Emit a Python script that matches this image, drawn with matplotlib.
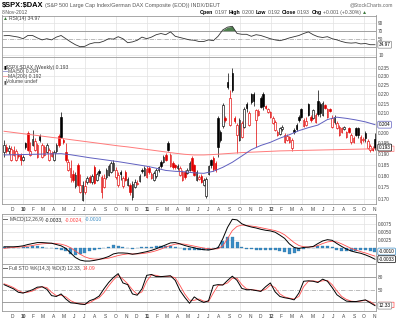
import numpy as np
import pandas as pd
import matplotlib
matplotlib.use('Agg')
import matplotlib.pyplot as plt
import matplotlib.dates as mdates
from matplotlib.patches import FancyBboxPatch
from matplotlib.ticker import FixedLocator, NullLocator, FuncFormatter

plt.rcParams['font.family'] = ['Liberation Sans', 'DejaVu Sans']

W, H = 400, 325

# weekly bars, $SPX:$DAX ratio
dates = pd.date_range('2009-11-06', periods=157, freq='7D')

opens = [
    0.1910, 0.1934, 0.1912, 0.1872, 0.1895, 0.1872, 0.1895, 0.1895, 0.1872, 0.1950,
    0.2001, 0.1895, 0.1940, 0.1919, 0.1886, 0.1986, 0.1886, 0.1895, 0.1910, 0.1872,
    0.1890, 0.1872, 0.1912, 0.1986, 0.2081, 0.1967, 0.1910, 0.1827, 0.1795, 0.1809,
    0.1756, 0.1849, 0.1731, 0.1697, 0.1731, 0.1774, 0.1795, 0.1774, 0.1840, 0.1782,
    0.1822, 0.1731, 0.1752, 0.1795, 0.1804, 0.1818, 0.1827, 0.1795, 0.1761, 0.1818,
    0.1756, 0.1818, 0.1761, 0.1761, 0.1710, 0.1752, 0.1765, 0.1778, 0.1827, 0.1804,
    0.1795, 0.1836, 0.1790, 0.1782, 0.1797, 0.1827, 0.1863, 0.1863, 0.1895, 0.1950,
    0.1845, 0.1858, 0.1849, 0.1836, 0.1804, 0.1782, 0.1818, 0.1814, 0.1827, 0.1882,
    0.1849, 0.1782, 0.1788, 0.1800, 0.1761, 0.1712, 0.1809, 0.1870, 0.1880, 0.1860,
    0.2076, 0.2006, 0.2035, 0.2076, 0.2268, 0.2040, 0.2319, 0.2076, 0.1991, 0.1967,
    0.1982, 0.2030, 0.2148, 0.2040, 0.2200, 0.2205, 0.2066, 0.2091, 0.2180, 0.2200,
    0.2140, 0.2106, 0.2081, 0.2050, 0.2016, 0.1991, 0.1996, 0.2022, 0.1958, 0.1967,
    0.1958, 0.1930, 0.2016, 0.2040, 0.2081, 0.2122, 0.2035, 0.2040, 0.2148, 0.2081,
    0.2076, 0.2055, 0.2165, 0.2148, 0.2091, 0.2143, 0.2081, 0.2122, 0.2030, 0.2055,
    0.2025, 0.1991, 0.2006, 0.2022, 0.1982, 0.2025, 0.1955, 0.1958, 0.2025, 0.2025,
    0.1955, 0.1965, 0.2000, 0.1930, 0.1920, 0.1928, 0.1970,
]
highs = [
    0.1967, 0.1948, 0.1940, 0.1935, 0.1938, 0.1922, 0.1905, 0.1902, 0.1895, 0.1958,
    0.2008, 0.1958, 0.2015, 0.1975, 0.1950, 0.1995, 0.1952, 0.1942, 0.1952, 0.1928,
    0.1914, 0.1918, 0.1952, 0.1995, 0.2106, 0.1975, 0.1950, 0.1875, 0.1872, 0.1825,
    0.1815, 0.1860, 0.1809, 0.1775, 0.1782, 0.1800, 0.1805, 0.1810, 0.1850, 0.1818,
    0.1830, 0.1805, 0.1809, 0.1835, 0.1855, 0.1868, 0.1870, 0.1838, 0.1815, 0.1828,
    0.1800, 0.1825, 0.1795, 0.1770, 0.1778, 0.1785, 0.1782, 0.1808, 0.1835, 0.1845,
    0.1845, 0.1845, 0.1818, 0.1820, 0.1835, 0.1845, 0.1870, 0.1895, 0.1905, 0.1960,
    0.1905, 0.1865, 0.1855, 0.1852, 0.1842, 0.1826, 0.1825, 0.1835, 0.1866, 0.1890,
    0.1855, 0.1826, 0.1805, 0.1808, 0.1790, 0.1795, 0.1850, 0.1878, 0.1888, 0.1868,
    0.2086, 0.2015, 0.2155, 0.2085, 0.2319, 0.2224, 0.2350, 0.2085, 0.2050, 0.2075,
    0.2060, 0.2135, 0.2160, 0.2110, 0.2210, 0.2215, 0.2125, 0.2120, 0.2190, 0.2215,
    0.2145, 0.2128, 0.2112, 0.2085, 0.2065, 0.2015, 0.2030, 0.2038, 0.2000, 0.1995,
    0.1988, 0.1975, 0.2025, 0.2050, 0.2090, 0.2130, 0.2075, 0.2080, 0.2155, 0.2090,
    0.2125, 0.2100, 0.2222, 0.2160, 0.2165, 0.2150, 0.2130, 0.2130, 0.2090, 0.2090,
    0.2060, 0.2040, 0.2032, 0.2035, 0.2012, 0.2030, 0.2000, 0.1985, 0.2032, 0.2030,
    0.1990, 0.1980, 0.2008, 0.1970, 0.1945, 0.1935, 0.2000,
]
lows = [
    0.1886, 0.1905, 0.1900, 0.1865, 0.1888, 0.1866, 0.1880, 0.1849, 0.1865, 0.1925,
    0.1912, 0.1890, 0.1935, 0.1912, 0.1880, 0.1958, 0.1880, 0.1890, 0.1905, 0.1866,
    0.1884, 0.1866, 0.1905, 0.1932, 0.1975, 0.1945, 0.1863, 0.1820, 0.1774, 0.1774,
    0.1748, 0.1755, 0.1725, 0.1690, 0.1722, 0.1765, 0.1768, 0.1765, 0.1762, 0.1775,
    0.1800, 0.1705, 0.1745, 0.1788, 0.1798, 0.1812, 0.1820, 0.1788, 0.1752, 0.1780,
    0.1748, 0.1775, 0.1755, 0.1718, 0.1697, 0.1745, 0.1760, 0.1772, 0.1812, 0.1798,
    0.1790, 0.1810, 0.1785, 0.1775, 0.1790, 0.1818, 0.1835, 0.1858, 0.1865, 0.1912,
    0.1838, 0.1832, 0.1830, 0.1828, 0.1798, 0.1775, 0.1788, 0.1808, 0.1820, 0.1820,
    0.1798, 0.1775, 0.1780, 0.1768, 0.1755, 0.1706, 0.1803, 0.1835, 0.1822, 0.1815,
    0.1886, 0.1955, 0.2025, 0.2055, 0.2230, 0.2035, 0.2213, 0.2050, 0.1905, 0.1960,
    0.1975, 0.2025, 0.2105, 0.2035, 0.2150, 0.2140, 0.1934, 0.2085, 0.2130, 0.2115,
    0.2120, 0.2100, 0.2075, 0.2045, 0.2010, 0.1985, 0.1990, 0.2010, 0.1950, 0.1960,
    0.1950, 0.1915, 0.1995, 0.2010, 0.2055, 0.2075, 0.2028, 0.2035, 0.2085, 0.2058,
    0.2070, 0.2048, 0.2088, 0.2080, 0.2085, 0.2120, 0.2075, 0.2105, 0.2025, 0.2045,
    0.2018, 0.1985, 0.2000, 0.2015, 0.1975, 0.1998, 0.1948, 0.1952, 0.1985, 0.1975,
    0.1948, 0.1955, 0.1958, 0.1925, 0.1910, 0.1915, 0.1920,
]
closes = [
    0.1943, 0.1915, 0.1928, 0.1925, 0.1920, 0.1912, 0.1888, 0.1872, 0.1886, 0.1934,
    0.1919, 0.1912, 0.1972, 0.1962, 0.1940, 0.1967, 0.1943, 0.1934, 0.1943, 0.1919,
    0.1905, 0.1910, 0.1943, 0.1940, 0.1982, 0.1955, 0.1872, 0.1863, 0.1836, 0.1782,
    0.1804, 0.1761, 0.1758, 0.1761, 0.1755, 0.1790, 0.1774, 0.1800, 0.1770, 0.1809,
    0.1811, 0.1795, 0.1790, 0.1827, 0.1845, 0.1858, 0.1860, 0.1827, 0.1804, 0.1806,
    0.1790, 0.1782, 0.1785, 0.1731, 0.1765, 0.1774, 0.1770, 0.1800, 0.1820, 0.1834,
    0.1830, 0.1818, 0.1809, 0.1812, 0.1827, 0.1838, 0.1842, 0.1886, 0.1872, 0.1919,
    0.1895, 0.1840, 0.1838, 0.1846, 0.1834, 0.1818, 0.1795, 0.1827, 0.1858, 0.1827,
    0.1804, 0.1818, 0.1795, 0.1774, 0.1782, 0.1787, 0.1845, 0.1849, 0.1830, 0.1825,
    0.1934, 0.1967, 0.2143, 0.2066, 0.2241, 0.2183, 0.2224, 0.2061, 0.2040, 0.2066,
    0.2050, 0.2125, 0.2128, 0.2100, 0.2160, 0.2165, 0.2117, 0.2110, 0.2135, 0.2140,
    0.2130, 0.2120, 0.2106, 0.2076, 0.2055, 0.2006, 0.2025, 0.2030, 0.1991, 0.1985,
    0.1980, 0.1967, 0.2005, 0.2018, 0.2066, 0.2081, 0.2066, 0.2060, 0.2091, 0.2066,
    0.2117, 0.2091, 0.2095, 0.2100, 0.2153, 0.2130, 0.2122, 0.2112, 0.2076, 0.2081,
    0.2050, 0.2030, 0.2025, 0.2028, 0.2006, 0.2004, 0.1991, 0.1975, 0.1991, 0.1992,
    0.1982, 0.1972, 0.1975, 0.1962, 0.1935, 0.1920, 0.1930,
]

# moving averages, every 4th week
ma50 = [
    0.1895, 0.1896, 0.1897, 0.1898, 0.1899, 0.1900, 0.1901, 0.1896, 0.1889, 0.1882,
    0.1876, 0.1870, 0.1864, 0.1857, 0.1850, 0.1843, 0.1834, 0.1824, 0.1820, 0.1818,
    0.1813, 0.1811, 0.1820, 0.1838, 0.1861, 0.1890, 0.1920, 0.1940, 0.1955, 0.1975,
    0.1992, 0.2012, 0.2027, 0.2040, 0.2068, 0.2080, 0.2074, 0.2066, 0.2056, 0.2042,
]
ma200 = [
    0.2009, 0.2003, 0.1997, 0.1991, 0.1985, 0.1979, 0.1974, 0.1968, 0.1962, 0.1956,
    0.1950, 0.1944, 0.1938, 0.1933, 0.1927, 0.1921, 0.1915, 0.1909, 0.1903, 0.1898,
    0.1895, 0.1895, 0.1897, 0.1900, 0.1903, 0.1906, 0.1908, 0.1910, 0.1912, 0.1914,
    0.1915, 0.1916, 0.1917, 0.1918, 0.1919, 0.1920, 0.1921, 0.1922, 0.1923, 0.1924,
]

# indicators, every 2nd week
rsi = [
    57.5, 58, 56, 54, 50, 58, 58, 52, 47, 50,
    47, 54, 58, 50, 42, 35, 30, 31, 37, 40,
    40, 44, 50, 49, 55, 50, 40, 42, 46, 54,
    50, 54, 60, 63, 60, 67, 56, 53, 50, 47,
    46, 43, 43, 47, 45, 56, 72, 79, 81, 63,
    61, 61, 56, 60, 58, 54, 50, 47, 45, 48,
    52, 55, 58, 63, 67, 60, 55, 53, 55, 50,
    47, 43, 40, 39, 40, 37, 38, 35, 34.97,
]
macd = [
    0.0005, 0.0005, 0.0005, 0.0006, 0.0008, 0.0012, 0.0015, 0.0018, 0.0018, 0.0017,
    0.0016, 0.0012, 0.0008, 0.0000, -0.0014, -0.0028, -0.0036, -0.0039, -0.0039, -0.0037,
    -0.0034, -0.0030, -0.0025, -0.0017, -0.0014, -0.0014, -0.0015, -0.0018, -0.0016, -0.0013,
    -0.0010, -0.0006, -0.0001, 0.0005, 0.0011, 0.0017, 0.0018, 0.0014, 0.0009, 0.0005,
    0.0002, -0.0002, -0.0004, -0.0005, -0.0002, 0.0002, 0.0030, 0.0065, 0.0090, 0.0088,
    0.0076, 0.0070, 0.0066, 0.0063, 0.0059, 0.0056, 0.0054, 0.0050, 0.0041, 0.0031,
    0.0014, 0.0003, 0.0000, 0.0003, 0.0004, 0.0006, 0.0015, 0.0023, 0.0027, 0.0025,
    0.0015, 0.0006, -0.0002, -0.0008, -0.0012, -0.0015, -0.0020, -0.0026, -0.00334,
]
signal = [
    0.0000, 0.0002, 0.0003, 0.0004, 0.0005, 0.0007, 0.0009, 0.0012, 0.0014, 0.0015,
    0.0016, 0.0015, 0.0013, 0.0009, 0.0002, -0.0008, -0.0018, -0.0026, -0.0031, -0.0033,
    -0.0033, -0.0032, -0.0030, -0.0026, -0.0022, -0.0019, -0.0017, -0.0017, -0.0017, -0.0016,
    -0.0014, -0.0011, -0.0007, -0.0002, 0.0004, 0.0009, 0.0013, 0.0014, 0.0013, 0.0010,
    0.0007, 0.0004, 0.0001, -0.0001, -0.0002, -0.0001, 0.0008, 0.0030, 0.0055, 0.0068,
    0.0072, 0.0071, 0.0069, 0.0067, 0.0064, 0.0061, 0.0058, 0.0055, 0.0050, 0.0042,
    0.0030, 0.0018, 0.0009, 0.0005, 0.0004, 0.0005, 0.0009, 0.0015, 0.0020, 0.0022,
    0.0020, 0.0014, 0.0007, 0.0000, -0.0005, -0.0010, -0.0014, -0.0019, -0.00238,
]
sto_k = [
    62, 57, 52, 44, 42, 46, 50, 56, 57, 51,
    36, 34, 40, 28, 19, 18, 16, 15, 24, 28,
    35, 52, 67, 79, 88, 66, 62, 40, 37, 52,
    84, 86, 81, 81, 82, 83, 72, 48, 32, 18,
    33, 25, 20, 24, 60, 62, 61, 72, 82, 72,
    53, 50, 50, 48, 46, 57, 66, 45, 34, 31,
    29, 26, 42, 70, 71, 70, 67, 75, 70, 55,
    38, 30, 23, 22, 22, 24, 26, 19, 12.33,
]
sto_d = [
    64, 60, 55, 48, 43, 44, 47, 53, 57, 55,
    44, 36, 37, 33, 24, 19, 17, 16, 19, 26,
    31, 43, 59, 73, 84, 75, 64, 50, 39, 45,
    70, 85, 84, 81, 81, 82, 78, 60, 40, 25,
    25, 28, 23, 22, 42, 60, 62, 66, 77, 77,
    62, 52, 50, 49, 47, 51, 61, 55, 40, 33,
    30, 28, 34, 57, 70, 71, 69, 71, 72, 62,
    47, 34, 27, 23, 22, 23, 25, 22, 14.09,
]

price_ticks = [0.170, 0.175, 0.180, 0.185, 0.190, 0.195, 0.200,
               0.205, 0.210, 0.215, 0.220, 0.225, 0.230, 0.235]

BLACK = '#000000'
RED = '#e00000'
GRID = '#e2e2e2'
LABEL = '#444444'

x = mdates.date2num(dates.to_pydatetime())
x2 = x[::2]
x4 = x[::4]
xmin = mdates.date2num(pd.Timestamp('2009-10-31'))
xmax = mdates.date2num(pd.Timestamp('2012-11-05'))

months = pd.date_range('2009-12-01', '2012-11-01', freq='MS')
mx = mdates.date2num(months.to_pydatetime())
mlab = [m.strftime('%y') if m.month == 1 else m.strftime('%b')[0] for m in months]
qx = [v for v, m in zip(mx, months) if m.month in (1, 4, 7, 10)]

fig = plt.figure(figsize=(W / 100, H / 100), dpi=100)
fig.patch.set_facecolor('white')


def panel(top, bottom):
    return fig.add_axes([2 / W, 1 - bottom / H, 374 / W, (bottom - top) / H])


def style(ax, labels=False):
    ax.set_xlim(xmin, xmax)
    for s in ax.spines.values():
        s.set_color('#999999')
        s.set_linewidth(0.6)
    for q in qx:
        ax.axvline(q, color=GRID, lw=0.5, zorder=0)
    ax.yaxis.tick_right()
    ax.tick_params(axis='y', length=0, labelsize=3.4, labelcolor=LABEL, pad=1.5)
    ax.set_xticks(mx)
    if labels:
        ax.set_xticklabels(mlab)
        for t, m in zip(ax.get_xticklabels(), months):
            if m.month == 1:
                t.set_fontweight('bold')
        ax.tick_params(axis='x', length=0, labelsize=3.5, labelcolor=LABEL, pad=2.2)
    else:
        ax.tick_params(axis='x', length=0, labelbottom=False)


def text(xp, yp, s, size=3.9, color=LABEL, weight='normal', ha='left'):
    return fig.text(xp / W, 1 - yp / H, s, fontsize=size, color=color,
                    fontweight=weight, ha=ha, va='center')


def run(xp, yp, pieces, size=3.9, gap=1.0):
    # lay out coloured text pieces one after another on a line
    r = fig.canvas.get_renderer()
    for piece in pieces:
        s, color, weight = piece[:3]
        fs = piece[3] if len(piece) > 3 else size
        t = text(xp, yp, s, size=fs, color=color, weight=weight)
        xp += t.get_window_extent(r).width + gap


def vbox(ax, val, s, ec, tc=BLACK):
    ax.annotate(s, xy=(1.0, val), xycoords=('axes fraction', 'data'),
                xytext=(2, 0), textcoords='offset points', ha='left', va='center',
                fontsize=3.4, color=tc, annotation_clip=False,
                bbox=dict(boxstyle='round,pad=0.2', fc='white', ec=ec, lw=0.5))


def ghost(ax, val, ec):
    # value box sitting behind another one; only its outline shows
    yd = ax.transData.transform((0, val))[1]
    fig.add_artist(FancyBboxPatch((378.5 / W, (yd - 2.7) / H), 15.5 / W, 5.4 / H,
                                  boxstyle='round,pad=0', transform=fig.transFigure,
                                  fc='white', ec=ec, lw=0.5, zorder=-1))


# RSI panel
ax_rsi = panel(15.5, 57)
style(ax_rsi)
ax_rsi.set_ylim(4.25, 108)
ax_rsi.yaxis.set_major_locator(FixedLocator([10, 50, 70, 90]))
ax_rsi.yaxis.set_major_formatter(FuncFormatter(lambda v, p: '%d' % v))
for lv in (10, 90):
    ax_rsi.axhline(lv, color=GRID, lw=0.5, zorder=0)
for lv in (30, 70):
    ax_rsi.axhline(lv, color='#a0a0a0', lw=0.7, zorder=1)
ax_rsi.axhline(50, color='#a0a0a0', lw=0.5, ls='-.', zorder=1)
rsi_a = np.array(rsi)
ax_rsi.fill_between(x2, rsi_a, 70, where=rsi_a > 70, interpolate=True,
                    color='#4f7f4f', lw=0, zorder=2)
ax_rsi.plot(x2, rsi, color='#333333', lw=0.6, zorder=3)
vbox(ax_rsi, rsi[-1], '%.2f' % rsi[-1], '#888888')
run(3, 18.5, [('▲', '#3f7a3f', 'normal'), ('RSI(14) %.2f' % rsi[-1], LABEL, 'normal')],
    size=3.6, gap=0.6)

# price panel
ax = panel(57, 204)
style(ax, labels=True)
ax.set_yscale('log')
ax.set_ylim(0.1679, 0.2413)
ax.yaxis.set_major_locator(FixedLocator(price_ticks))
ax.yaxis.set_minor_locator(NullLocator())
ax.yaxis.set_major_formatter(FuncFormatter(lambda v, p: '%.3f' % v))
ax.yaxis.set_minor_formatter(FuncFormatter(lambda v, p: ''))
for lv in price_ticks:
    ax.axhline(lv, color=GRID, lw=0.5, zorder=0)

o = np.array(opens)
h = np.array(highs)
l = np.array(lows)
c = np.array(closes)
prev = np.concatenate([[o[0]], c[:-1]])
edge = np.where(c >= prev, BLACK, RED)
face = np.where(c >= o, 'white', edge)
lo = np.minimum(o, c)
hi = np.maximum(o, c)
ax.vlines(x, l, h, colors=edge, lw=0.5, zorder=3)
ax.bar(x, hi - lo, bottom=lo, width=4.6, color=face, edgecolor=edge,
       linewidth=0.45, zorder=4)
ax.plot(x4, ma200, color='#ff7a7a', lw=0.7, zorder=5)
ax.plot(x4, ma50, color='#6060c0', lw=0.7, zorder=5)

vbox(ax, ma50[-1], '%.3f' % ma50[-1], '#6060c0')
ghost(ax, ma200[-1], '#ff7a7a')
vbox(ax, closes[-1], '%.3f' % closes[-1], BLACK)

run(3, 67, [('▮', BLACK, 'normal'), (r'\$SPX:\$DAX (Weekly) %.3f' % closes[-1], LABEL, 'normal')],
    size=3.6, gap=0.6)
run(3, 71.8, [('—', '#6060c0', 'bold'), ('MA(50) %.3f' % ma50[-1], LABEL, 'normal')],
    size=3.6, gap=0.4)
run(3, 76.6, [('—', '#ff7a7a', 'bold'), ('MA(200) %.3f' % ma200[-1], LABEL, 'normal')],
    size=3.6, gap=0.4)
run(3, 81.4, [('▮', '#555555', 'normal'), ('Volume undef', LABEL, 'normal')],
    size=3.6, gap=0.6)

# MACD panel
ax_m = panel(214, 264)
style(ax_m)
ax_m.set_ylim(-0.00481, 0.01062)
ax_m.yaxis.set_major_locator(FixedLocator([0.0025, 0.005, 0.0075]))
ax_m.yaxis.set_major_formatter(FuncFormatter(lambda v, p: '%.4f' % v))
for lv in (-0.0025, 0.0, 0.0025, 0.005, 0.0075, 0.01):
    ax_m.axhline(lv, color=GRID, lw=0.5, zorder=0)
hist = np.array(macd) - np.array(signal)
ax_m.bar(x2, hist, width=9, color='#3a8cc4', edgecolor='#2a6f9f', lw=0.2, zorder=2)
ax_m.plot(x2, signal, color='#ff5050', lw=0.6, zorder=3)
ax_m.plot(x2, macd, color=BLACK, lw=0.7, zorder=4)
vbox(ax_m, hist[-1], '%.4f' % hist[-1], '#3a8cc4')
ghost(ax_m, signal[-1], '#ff5050')
vbox(ax_m, macd[-1], '%.4f' % macd[-1], BLACK)
run(3, 219.5, [('—', BLACK, 'bold'), ('MACD(12,26,9)', LABEL, 'normal'),
               ('%.4f,' % macd[-1], '#222222', 'normal'),
               ('%.4f,' % signal[-1], '#ff4040', 'normal'),
               ('%.4f' % hist[-1], '#3a8cc4', 'normal')], size=3.6, gap=1.2)

# Full stochastics panel
ax_s = panel(264, 311)
style(ax_s, labels=True)
ax_s.set_ylim(-0.35, 110.8)
ax_s.yaxis.set_major_locator(FixedLocator([50, 80]))
ax_s.yaxis.set_major_formatter(FuncFormatter(lambda v, p: '%d' % v))
for lv in (20, 80):
    ax_s.axhline(lv, color='#a0a0a0', lw=0.7, zorder=1)
ax_s.axhline(50, color='#a0a0a0', lw=0.5, ls='-.', zorder=1)
ax_s.plot(x2, sto_d, color='#ff5050', lw=0.6, zorder=3)
ax_s.plot(x2, sto_k, color=BLACK, lw=0.7, zorder=4)
ghost(ax_s, sto_d[-1], '#ff5050')
vbox(ax_s, sto_k[-1], '%.2f' % sto_k[-1], '#888888')
run(3, 268.5, [('—', BLACK, 'bold'),
               ('Full STO %%K(14,3) %%D(3) %.2f,' % sto_k[-1], LABEL, 'normal'),
               ('%.2f' % sto_d[-1], '#ff4040', 'normal')], size=3.6, gap=1.2)

# header
run(2, 5.5, [(r'\$SPX:\$DAX', BLACK, 'bold', 5.4),
             ('(S&P 500 Large Cap Index/German DAX Composite (EOD)) INDX/DEUT', '#555555', 'normal')],
    size=3.9, gap=1.5)
text(2, 12, '8-Nov-2012', size=3.6, color='#555555')
text(393, 4.5, '@StockCharts.com', size=3.6, color='#666666', ha='right')
run(200, 12.5, [('Open', BLACK, 'bold'), ('0.197', '#555555', 'normal'),
                ('High', BLACK, 'bold'), ('0.200', '#555555', 'normal'),
                ('Low', BLACK, 'bold'), ('0.192', '#555555', 'normal'),
                ('Close', BLACK, 'bold'), ('0.193', '#555555', 'normal'),
                ('Chg', BLACK, 'bold'), ('+0.001 (+0.30%)', '#555555', 'normal'),
                ('▲', '#3f7a3f', 'normal')], size=3.7, gap=1.3)

fig.savefig('out.png', dpi=100, facecolor='white')
